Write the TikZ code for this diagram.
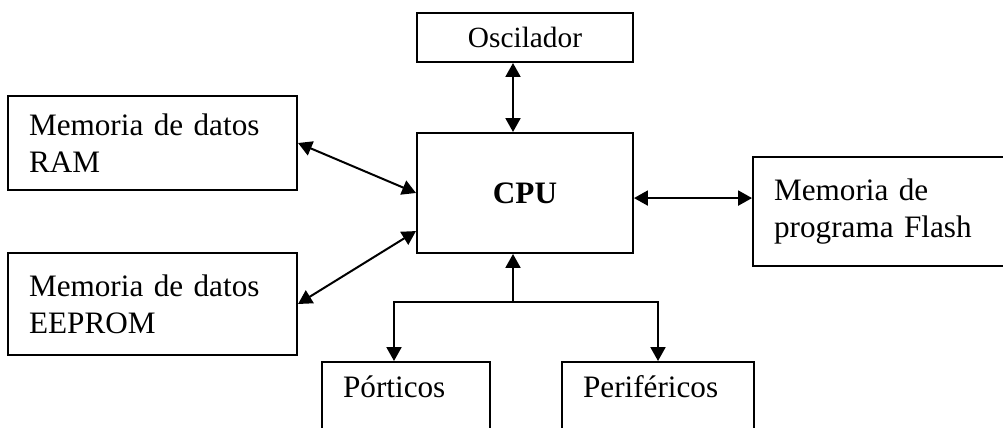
\documentclass[tikz,border=0pt]{standalone}
\usepackage{fontspec}
\setmainfont{Liberation Serif}
\usetikzlibrary{arrows.meta,calc}

\begin{document}
\fontsize{11.7}{13.8}\selectfont
\begin{tikzpicture}[x=0.375pt,y=0.375pt,
  >={Triangle[length=5.2pt,width=5.6pt]},
  caja/.style={draw,line width=0.75pt,inner xsep=7.9pt,inner ysep=0pt,align=left},
  flecha/.style={line width=0.75pt}]
\clip (0,0) rectangle (1003,428);
% bloques
\node[caja,align=center,minimum width=81pt,minimum height=18.4pt,font=\fontsize{11}{13}\selectfont] (osc) at (525,390.5) {Oscilador};
\node[caja,align=center,minimum width=81pt,minimum height=45pt,font=\bfseries] (cpu) at (525,235) {CPU};
\node[caja,text width=92.6pt,minimum height=35.25pt] (ram) at (152.5,285) {Memoria de datos\\RAM};
\node[caja,text width=92.6pt,minimum height=38.25pt] (eeprom) at (152.5,124) {Memoria de datos\\EEPROM};
\node[caja,text width=81.3pt,minimum height=40.9pt] (flash) at (882.5,216.5) {Memoria de\\programa Flash};
\node[caja,anchor=north west,text width=47.2pt,text height=13.5pt,text depth=18pt] (port) at (321,67) {Pórticos};
\node[caja,anchor=north west,text width=56.2pt,text height=13.5pt,text depth=18pt] (perif) at (561,67) {Periféricos};
% conexiones
\draw[flecha,<->] ([xshift=-4.5pt]osc.south) -- ([xshift=-4.5pt]cpu.north);
\draw[flecha,<->] (ram.east) -- (cpu.west);
\draw[flecha,<->] (eeprom.east) -- ([yshift=8.6pt]cpu.south west);
\draw[flecha,<->] ([yshift=-1.9pt]cpu.east) -- ([yshift=-1.9pt]cpu.east -| flash.west);
\coordinate (bus) at ($(cpu.south)+(-12,-48)$);
\draw[flecha,<-] ([xshift=-4.5pt]cpu.south) -- (bus);
\draw[flecha,->] (bus) -| ([xshift=-4.5pt]port.north);
\draw[flecha,->] (bus) -| (perif.north);
\end{tikzpicture}
\end{document}
